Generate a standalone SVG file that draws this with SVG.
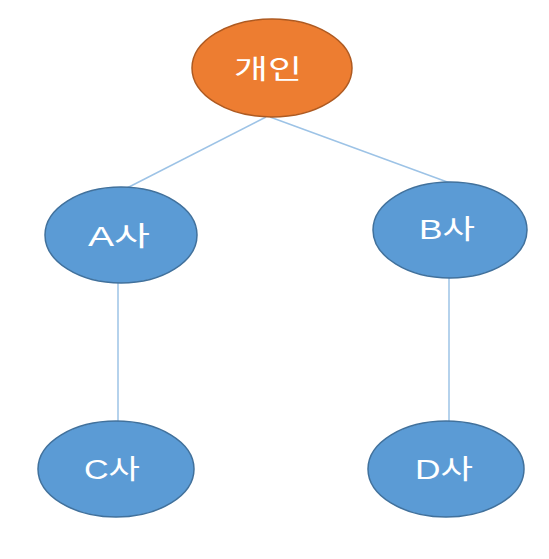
<svg xmlns="http://www.w3.org/2000/svg" width="549" height="559" viewBox="0 0 549 559">
<style>
.edge{stroke:#9DC3E6;stroke-width:1.5;fill:none}
.blue{fill:#5B9BD5;stroke:#41719C;stroke-width:1.5}
.orange{fill:#ED7D31;stroke:#AE5A21;stroke-width:1.5}
.lbl{fill:#ffffff;font-family:"Liberation Sans","Noto Sans CJK KR",sans-serif;font-size:27px;text-anchor:middle;dominant-baseline:central}
</style>
<rect width="549" height="559" fill="#ffffff"/>
<g id="connectors">
<line class="edge" x1="266" y1="117" x2="127" y2="188"/>
<line class="edge" x1="270" y1="117" x2="450" y2="183"/>
<line class="edge" x1="118" y1="283" x2="118" y2="422"/>
<line class="edge" x1="449" y1="278" x2="449" y2="422"/>
</g>
<g id="n-person">
<ellipse class="orange" cx="272" cy="68" rx="80" ry="49"/>
<text class="lbl" x="268" y="70" textLength="68" lengthAdjust="spacingAndGlyphs">개인</text>
</g>
<g id="n-a">
<ellipse class="blue" cx="121" cy="235" rx="76" ry="48"/>
<text class="lbl" x="119" y="237" textLength="62" lengthAdjust="spacingAndGlyphs">A사</text>
</g>
<g id="n-b">
<ellipse class="blue" cx="450" cy="230" rx="77" ry="48"/>
<text class="lbl" x="447" y="230" textLength="56" lengthAdjust="spacingAndGlyphs">B사</text>
</g>
<g id="n-c">
<ellipse class="blue" cx="116" cy="469" rx="78" ry="48"/>
<text class="lbl" x="112" y="470" textLength="56" lengthAdjust="spacingAndGlyphs">C사</text>
</g>
<g id="n-d">
<ellipse class="blue" cx="446" cy="469" rx="78" ry="48"/>
<text class="lbl" x="444" y="470" textLength="58" lengthAdjust="spacingAndGlyphs">D사</text>
</g>
</svg>
